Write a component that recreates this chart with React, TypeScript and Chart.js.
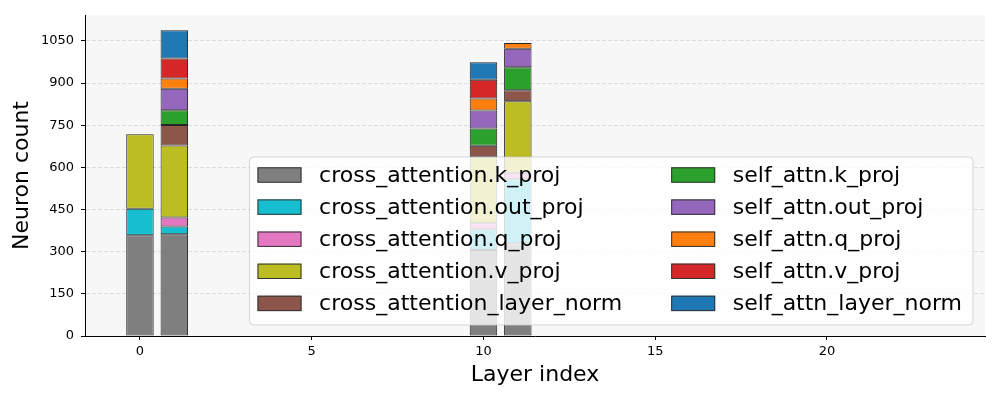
import React, { useEffect, useRef } from "react";
import { Chart, registerables } from "chart.js";

Chart.register(...registerables);

const layers = [0, 1, 10, 11];
const seriesNames = [
  "cross_attention.k_proj",
  "cross_attention.out_proj",
  "cross_attention.q_proj",
  "cross_attention.v_proj",
  "cross_attention_layer_norm",
  "self_attn.k_proj",
  "self_attn.out_proj",
  "self_attn.q_proj",
  "self_attn.v_proj",
  "self_attn_layer_norm",
];
const crossKProj = [358, 362, 306, 330];
const crossOutProj = [95, 28, 74, 228];
const crossQProj = [null, 32, 21, 23];
const crossVProj = [265, 256, 235, 254];
const crossLayerNorm = [null, 73, 41, 39];
const selfKProj = [null, 52, 61, 82];
const selfOutProj = [null, 77, 64, 66];
const selfQProj = [null, 36, 43, 20];
const selfVProj = [null, 71, 67, null];
const selfLayerNorm = [null, 101, 62, null];
const seriesValues = [
  crossKProj,
  crossOutProj,
  crossQProj,
  crossVProj,
  crossLayerNorm,
  selfKProj,
  selfOutProj,
  selfQProj,
  selfVProj,
  selfLayerNorm,
];
const seriesColors = [
  "#7f7f7f",
  "#17becf",
  "#e377c2",
  "#bcbd22",
  "#8c564b",
  "#2ca02c",
  "#9467bd",
  "#ff7f0e",
  "#d62728",
  "#1f77b4",
];
const yTickStep = 150;
const xTickStep = 5;
const FONT = "'DejaVu Sans', sans-serif";

const bgPlugin = {
  id: "plotBg",
  beforeDraw(chart: any) {
    const { ctx, chartArea } = chart;
    ctx.save();
    ctx.fillStyle = "#f7f7f7";
    ctx.fillRect(chartArea.left, chartArea.top, chartArea.right - chartArea.left, chartArea.bottom - chartArea.top);
    ctx.restore();
  },
};

const legendPlugin = {
  id: "overlayLegend",
  afterDraw(chart: any) {
    const { ctx, chartArea } = chart;
    const fs = 22;
    const rowH = 32.1;
    const handleW = 44;
    const handleH = 15.4;
    const textPad = 17.6;
    const colGap = 49;
    const padL = 8;
    const padR = 11;
    ctx.save();
    ctx.font = `${fs}px ${FONT}`;
    const datasets = chart.data.datasets;
    const rows = 5;
    const cols: any[][] = [datasets.slice(0, rows), datasets.slice(rows)];
    const colWidths = cols.map((c) => handleW + textPad + Math.max(...c.map((d: any) => ctx.measureText(d.label).width)));
    const boxW = padL + padR + colWidths[0] + colGap + colWidths[1];
    const boxH = 168;
    const right = chartArea.right - 12;
    const bottom = chartArea.bottom - 11;
    const left = right - boxW;
    const top = bottom - boxH;
    const r = 4;
    ctx.beginPath();
    ctx.moveTo(left + r, top);
    ctx.lineTo(right - r, top);
    ctx.arcTo(right, top, right, top + r, r);
    ctx.lineTo(right, bottom - r);
    ctx.arcTo(right, bottom, right - r, bottom, r);
    ctx.lineTo(left + r, bottom);
    ctx.arcTo(left, bottom, left, bottom - r, r);
    ctx.lineTo(left, top + r);
    ctx.arcTo(left, top, left + r, top, r);
    ctx.closePath();
    ctx.fillStyle = "rgba(255,255,255,0.8)";
    ctx.fill();
    ctx.strokeStyle = "rgba(204,204,204,0.8)";
    ctx.lineWidth = 1;
    ctx.stroke();
    let x = left + padL;
    cols.forEach((c, ci) => {
      c.forEach((d: any, ri: number) => {
        const cy = top + 18 + ri * rowH;
        ctx.fillStyle = d.backgroundColor;
        ctx.fillRect(x, cy - handleH / 2, handleW, handleH);
        ctx.strokeStyle = "#333";
        ctx.lineWidth = 1;
        ctx.strokeRect(x + 0.5, cy - handleH / 2 + 0.5, handleW - 1, handleH - 1);
        ctx.fillStyle = "#000";
        ctx.textBaseline = "middle";
        ctx.textAlign = "left";
        ctx.fillText(d.label, x + handleW + textPad, cy + 1);
      });
      x += colWidths[ci] + colGap;
    });
    ctx.restore();
  },
};

export default function App() {
  const ref = useRef<HTMLCanvasElement>(null);
  useEffect(() => {
    if (!ref.current) return;
    const datasets = seriesNames.map((name, i) => ({
      label: name,
      data: layers
        .map((l, j) => ({ x: l, y: seriesValues[i][j] }))
        .filter((p) => p.y !== null),
      backgroundColor: seriesColors[i],
      borderColor: "#262626",
      borderWidth: 1,
      borderSkipped: false,
      barPercentage: 0.8,
      categoryPercentage: 1.0,
    }));
    const chart = new Chart(ref.current, {
      type: "bar",
      data: { datasets },
      plugins: [bgPlugin, legendPlugin],
      options: {
        animation: false,
        responsive: false,
        devicePixelRatio: 1,
        layout: { padding: { left: 0, top: 15, right: 15, bottom: 0 } },
        plugins: { legend: { display: false }, tooltip: { enabled: false } },
        scales: {
          x: {
            type: "linear",
            stacked: true,
            offset: false,
            min: -1.6,
            max: 24.6,
            afterFit: (s: any) => {
              s.height = 64;
            },
            ticks: {
              stepSize: xTickStep,
              includeBounds: false,
              padding: 4,
              color: "#000",
              font: { family: FONT, size: 13 },
              callback: (v: any) => String(v),
            },
            grid: {
              display: true,
              offset: false,
              drawOnChartArea: false,
              tickLength: 4,
              tickColor: "#000",
            },
            border: { display: true, color: "#000", width: 1 },
            title: {
              display: true,
              text: "Layer index",
              color: "#000",
              font: { family: FONT, size: 22 },
              padding: { top: 0, bottom: 12 },
            },
          },
          y: {
            type: "linear",
            stacked: true,
            min: 0,
            max: 1142,
            afterFit: (s: any) => {
              s.width = 85;
            },
            ticks: {
              stepSize: yTickStep,
              includeBounds: false,
              padding: 7,
              color: "#000",
              font: { family: FONT, size: 13 },
              callback: (v: any) => String(v),
            },
            grid: {
              display: true,
              color: "#d6d6d6",
              lineWidth: 0.8,
              tickBorderDash: [],
              tickLength: 4,
              tickColor: "#000",
              tickWidth: 1,
            } as any,
            border: { display: true, color: "#000", width: 1, dash: [4, 2] } as any,
            title: {
              display: true,
              text: "Neuron count",
              color: "#000",
              font: { family: FONT, size: 22 },
              padding: { top: 9, bottom: 0 },
            },
          },
        },
      } as any,
    });
    return () => chart.destroy();
  }, []);
  return (
    <div style={{ position: "fixed", left: 0, top: 0, width: 1000, height: 400, background: "#fff" }}>
      <canvas ref={ref} width={1000} height={400} />
    </div>
  );
}
